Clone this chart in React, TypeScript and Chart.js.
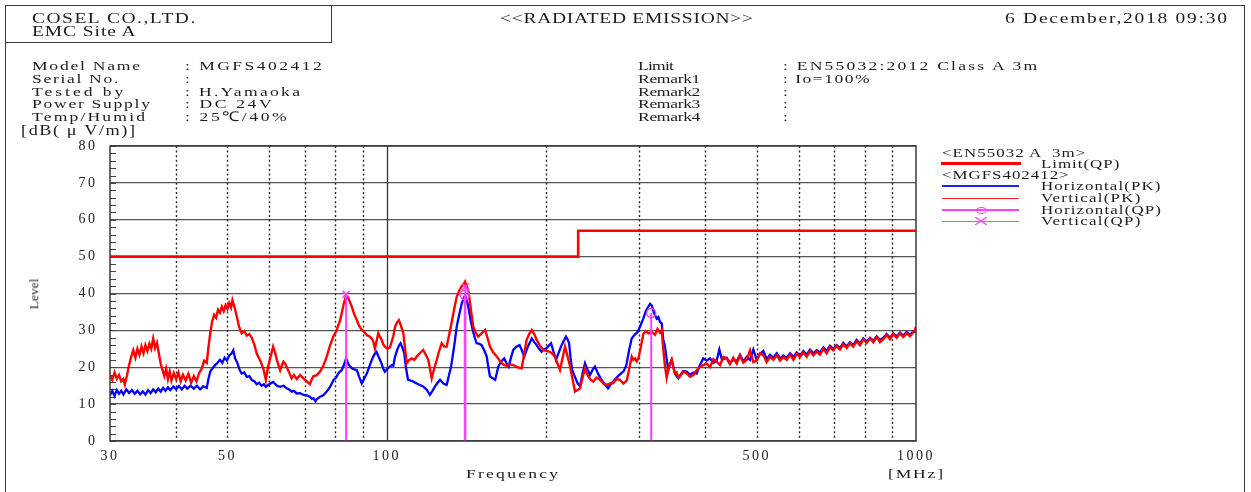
import React, { useEffect, useRef } from 'react';
import Chart from 'chart.js/auto';

const FONT = '"Liberation Serif", "Times New Roman", serif';

// ---- axis definitions ----
const xTickValues = [30, 40, 50, 60, 70, 80, 90, 100, 200, 300, 400, 500, 600, 700, 800, 900, 1000];
const xLabelValues = [30, 50, 100, 500, 1000];
const xDottedGrid = [40, 50, 60, 70, 80, 90, 200, 300, 400, 500, 600, 700, 800, 900];
const xSolidGrid = [100];
const yTickValues = [0, 10, 20, 30, 40, 50, 60, 70, 80];
const yMinorTicks = [0, 2, 4, 6, 8, 10, 12, 14, 16, 18, 20, 22, 24, 26, 28, 30, 32, 34, 36, 38, 40, 42, 44, 46, 48, 50, 52, 54, 56, 58, 60, 62, 64, 66, 68, 70, 72, 74, 76, 78, 80];

// ---- series: [frequency MHz, level dB(uV/m)] ----
const limitQP: [number, number][] = [[30, 50], [230, 50], [230, 57], [1000, 57]];
const horizontalQP: [number, number][] = [[140.4, 39.6], [316.0, 34.7]];
const verticalQP: [number, number][] = [[83.8, 39.8], [140.8, 41.8]];

const verticalPK: [number, number][] = [
  [30.0, 17.8], [30.3, 16.6], [30.6, 18.6], [30.9, 16.9], [31.2, 17.9], [31.5, 16.2], [31.8, 16.8], [32.0, 15.4], [32.3, 17.8], [32.6, 20.6],
  [32.9, 22.8], [33.2, 24.6], [33.5, 22.6], [33.8, 25.0], [34.1, 23.4], [34.4, 25.6], [34.7, 23.8], [35.0, 26.0], [35.3, 24.4], [35.6, 26.4],
  [35.9, 25.0], [36.2, 27.8], [36.5, 25.2], [36.8, 26.6], [37.1, 23.8], [37.4, 21.0], [37.7, 19.2], [38.0, 17.6], [38.3, 19.6], [38.6, 16.8],
  [38.9, 18.8], [39.2, 16.4], [39.6, 18.4], [40.0, 16.8], [40.4, 18.6], [40.8, 16.2], [41.2, 18.0], [41.7, 16.4], [42.2, 18.2], [42.7, 15.8],
  [43.2, 17.6], [43.7, 16.2], [44.2, 18.4], [44.7, 19.6], [45.2, 21.8], [45.7, 21.2], [46.0, 25.0], [46.4, 29.2], [46.8, 32.5], [47.2, 34.2],
  [47.6, 33.4], [48.0, 35.6], [48.4, 34.8], [48.8, 36.4], [49.2, 35.2], [49.6, 36.8], [50.0, 35.8], [50.4, 37.4], [50.8, 36.2], [51.1, 38.2],
  [51.5, 36.6], [51.8, 35.2], [52.1, 33.6], [52.6, 31.0], [53.2, 29.2], [53.8, 29.8], [54.4, 28.6], [55.0, 29.0], [55.6, 28.0], [56.2, 26.2],
  [56.8, 23.7], [57.4, 22.4], [58.0, 21.0], [58.6, 19.0], [59.1, 16.6], [59.6, 19.8], [60.3, 22.8], [61.0, 25.6], [61.5, 24.0], [62.0, 22.0],
  [62.5, 20.4], [62.9, 19.2], [63.4, 20.6], [63.8, 21.5], [64.3, 21.0], [64.7, 20.1], [65.4, 18.6], [66.1, 17.0], [66.8, 17.9], [67.6, 16.8],
  [68.6, 17.9], [69.6, 17.0], [70.6, 16.2], [71.6, 15.4], [72.2, 16.8], [72.7, 17.6], [73.7, 17.8], [74.8, 18.8], [75.9, 20.4], [77.0, 22.8],
  [78.1, 25.8], [79.3, 28.4], [80.2, 29.6], [81.0, 31.4], [81.6, 32.6], [82.2, 34.6], [83.0, 37.4], [83.8, 39.4], [84.8, 38.4], [85.9, 36.4],
  [86.8, 34.4], [87.8, 32.8], [88.7, 31.2], [89.7, 30.1], [90.7, 29.6], [91.7, 28.7], [92.7, 28.4], [93.7, 27.8], [94.4, 26.8], [95.0, 25.1],
  [95.7, 27.2], [96.4, 29.2], [97.1, 28.2], [97.8, 27.5], [98.5, 26.2], [99.2, 25.6], [100.3, 25.0], [101.4, 25.4], [102.2, 27.0], [102.9, 28.4],
  [103.7, 31.0], [104.6, 32.2], [105.4, 32.8], [106.4, 31.2], [107.5, 29.2], [108.3, 25.0], [109.1, 21.1], [110.3, 22.0], [111.5, 22.4], [112.7, 22.0],
  [113.9, 22.9], [115.5, 23.8], [117.2, 24.7], [118.5, 23.4], [119.8, 22.0], [120.7, 19.6], [121.6, 17.0], [122.9, 19.6], [124.3, 22.0], [125.6, 24.4],
  [127.0, 26.5], [128.4, 25.6], [129.8, 25.6], [131.2, 28.8], [132.7, 32.3], [134.1, 35.8], [135.6, 39.1], [137.1, 40.8], [138.6, 42.0], [139.6, 42.4],
  [140.6, 43.2], [141.6, 42.0], [142.6, 40.9], [144.1, 36.0], [145.7, 31.0], [147.3, 29.4], [148.9, 28.3], [151.1, 29.2], [153.4, 30.1], [155.0, 28.0],
  [156.7, 25.6], [159.0, 24.0], [161.4, 22.9], [163.1, 22.0], [164.9, 21.1], [166.7, 20.6], [168.5, 20.4], [171.0, 20.8], [173.4, 20.6], [176.7, 20.0],
  [179.9, 19.7], [181.8, 23.6], [183.8, 27.4], [185.8, 29.0], [187.9, 30.1], [190.0, 29.0], [192.0, 27.4], [194.8, 25.8], [197.6, 24.7], [200.5, 24.4],
  [203.5, 24.2], [205.7, 23.6], [207.9, 22.9], [210.2, 21.0], [212.5, 19.3], [214.8, 22.4], [217.2, 25.6], [219.6, 23.0], [222.0, 20.2], [224.4, 16.8],
  [226.8, 13.4], [229.3, 13.8], [231.8, 14.3], [234.3, 17.0], [236.9, 19.7], [238.6, 18.4], [240.3, 17.5], [243.0, 16.6], [245.6, 16.1], [249.2, 17.2],
  [252.9, 16.6], [256.6, 15.6], [260.4, 15.2], [264.1, 15.6], [268.0, 15.7], [271.9, 16.8], [275.9, 16.6], [280.0, 15.6], [284.1, 16.4], [287.2, 19.6],
  [290.3, 22.9], [292.4, 22.0], [294.5, 22.4], [296.6, 21.6], [298.8, 22.4], [302.0, 25.4], [305.3, 29.0], [308.6, 29.8], [312.0, 29.2], [316.7, 29.6],
  [321.3, 28.8], [324.8, 30.4], [328.3, 29.4], [330.8, 30.1], [333.1, 24.7], [335.6, 20.2], [338.0, 17.2], [340.4, 19.6], [342.9, 21.0], [345.5, 22.0],
  [348.0, 19.8], [350.4, 18.3], [353.0, 18.6], [355.5, 17.2], [358.2, 17.5], [363.4, 18.8], [368.7, 18.3], [374.1, 17.4], [379.5, 17.9], [385.1, 19.2],
  [390.7, 20.1], [396.3, 20.6], [402.3, 21.0], [408.1, 20.0], [414.1, 22.2], [420.2, 21.5], [426.4, 20.6], [432.6, 22.8], [438.8, 22.4], [445.0, 20.8],
  [451.6, 22.6], [458.4, 21.0], [465.0, 23.2], [471.8, 21.2], [478.8, 22.0], [485.8, 24.6], [492.8, 21.4], [500.0, 21.8], [507.3, 23.8], [514.7, 23.3],
  [522.1, 21.4], [529.8, 22.8], [537.6, 22.0], [545.6, 23.2], [553.6, 21.8], [561.6, 22.8], [569.8, 22.0], [578.2, 23.4], [586.7, 22.0], [595.2, 23.6],
  [603.8, 22.8], [612.7, 24.0], [621.6, 22.8], [630.6, 24.4], [639.8, 23.2], [649.1, 24.2], [658.6, 23.4], [668.2, 25.0], [677.9, 23.8], [687.8, 25.4],
  [697.9, 24.6], [708.1, 25.8], [718.4, 24.8], [728.8, 26.2], [739.4, 25.2], [750.2, 26.5], [761.2, 25.6], [772.2, 27.0], [783.6, 26.0], [795.0, 27.6],
  [806.8, 26.6], [818.6, 27.8], [830.6, 26.8], [842.8, 28.2], [855.0, 26.8], [867.5, 27.6], [880.2, 28.8], [893.0, 27.6], [906.0, 29.0], [919.2, 28.0],
  [932.6, 29.2], [946.3, 28.2], [960.3, 29.2], [974.3, 28.4], [988.5, 29.6], [995.0, 30.0], [1000, 31.0],
];

const horizontalPK: [number, number][] = [
  [30.0, 12.4], [30.3, 13.6], [30.6, 12.2], [30.9, 13.8], [31.2, 12.8], [31.5, 13.6], [31.8, 12.6], [32.2, 14.0], [32.6, 13.0], [33.0, 13.8],
  [33.4, 12.8], [33.8, 13.6], [34.2, 12.6], [34.6, 13.4], [35.0, 12.6], [35.4, 13.8], [35.8, 13.0], [36.2, 14.0], [36.6, 13.2], [37.0, 14.2],
  [37.4, 13.4], [37.8, 14.4], [38.2, 13.6], [38.6, 14.6], [39.0, 13.8], [39.5, 14.8], [40.0, 14.0], [40.5, 14.9], [41.0, 14.0], [41.5, 15.0],
  [42.0, 14.2], [42.6, 15.0], [43.2, 14.2], [43.8, 15.0], [44.4, 14.0], [45.0, 14.8], [45.7, 14.4], [46.0, 16.6], [46.4, 18.8], [46.8, 19.6],
  [47.4, 20.6], [47.9, 21.2], [48.4, 22.0], [48.9, 21.2], [49.4, 22.6], [49.9, 21.8], [50.4, 23.2], [50.9, 23.7], [51.3, 24.6], [51.7, 22.4],
  [52.2, 21.2], [52.7, 19.4], [53.2, 18.3], [53.8, 18.6], [54.4, 17.4], [55.0, 17.6], [55.6, 16.5], [56.2, 16.2], [56.8, 15.4], [57.4, 15.8],
  [58.0, 15.0], [58.6, 15.4], [59.1, 14.7], [60.0, 15.4], [61.0, 16.0], [62.0, 15.0], [62.9, 14.7], [63.8, 15.0], [64.7, 14.3], [65.4, 14.0],
  [66.1, 13.4], [66.8, 13.6], [67.6, 12.9], [68.6, 13.0], [69.6, 12.5], [70.6, 12.4], [71.6, 12.0], [72.2, 11.4], [72.7, 11.6], [73.3, 10.8],
  [73.8, 11.4], [74.8, 12.0], [75.9, 12.4], [77.0, 13.4], [78.1, 14.6], [79.3, 16.5], [80.2, 17.2], [81.0, 18.3], [81.6, 18.8], [82.2, 19.2],
  [83.0, 20.6], [83.8, 22.4], [84.8, 20.6], [85.9, 19.7], [86.8, 19.4], [87.8, 19.2], [88.7, 17.4], [89.7, 15.6], [90.7, 17.0], [91.7, 18.3],
  [92.7, 20.2], [93.7, 22.0], [94.7, 23.4], [95.6, 24.2], [96.7, 22.6], [97.8, 21.0], [98.5, 19.6], [99.2, 18.8], [100.3, 19.6], [101.4, 20.2],
  [102.2, 20.6], [102.9, 20.4], [103.7, 22.9], [104.7, 24.8], [105.6, 26.0], [106.2, 26.5], [107.0, 25.4], [107.9, 23.8], [108.8, 19.6], [109.7, 16.6],
  [111.0, 16.4], [112.3, 16.1], [113.9, 15.6], [115.5, 15.2], [117.2, 14.8], [119.0, 13.9], [120.6, 12.5], [122.0, 13.6], [123.4, 14.8], [124.8, 15.8],
  [126.1, 16.6], [128.0, 15.6], [129.8, 15.2], [131.0, 17.6], [132.3, 20.2], [134.0, 25.4], [135.6, 31.0], [137.1, 34.4], [138.6, 37.3], [139.6, 38.6],
  [140.6, 39.5], [141.6, 38.2], [142.6, 36.4], [144.1, 32.6], [145.7, 29.6], [146.7, 28.0], [147.8, 26.5], [149.4, 26.4], [151.1, 26.0], [152.8, 24.6],
  [154.5, 22.9], [155.6, 20.0], [156.7, 17.5], [158.5, 17.0], [160.3, 16.6], [161.4, 18.4], [162.5, 20.2], [164.6, 21.6], [166.7, 22.4], [168.3, 21.2],
  [170.0, 20.2], [171.7, 22.6], [173.4, 24.7], [175.8, 25.6], [178.2, 26.0], [180.0, 24.6], [181.9, 22.9], [184.8, 25.6], [187.9, 27.8], [190.0, 26.8],
  [192.0, 26.0], [194.0, 25.0], [196.1, 24.2], [198.0, 24.8], [200.0, 25.1], [202.2, 25.8], [204.4, 26.5], [206.6, 24.2], [208.8, 22.0], [211.1, 23.8],
  [213.4, 25.6], [215.7, 27.0], [218.1, 28.3], [219.6, 27.6], [221.1, 26.5], [222.5, 22.6], [224.0, 19.3], [226.5, 17.6], [229.1, 15.8], [231.8, 14.8],
  [234.3, 18.2], [236.9, 21.1], [239.5, 19.4], [242.1, 17.9], [244.7, 19.2], [247.4, 20.2], [250.9, 18.2], [254.5, 16.6], [258.2, 15.4], [261.9, 14.3],
  [265.7, 15.6], [269.6, 16.6], [273.6, 17.6], [277.6, 18.4], [280.6, 19.0], [283.7, 20.6], [287.0, 24.6], [290.3, 27.8], [293.2, 28.6], [296.0, 29.2],
  [298.0, 29.6], [300.0, 30.5], [302.6, 31.8], [305.3, 33.2], [308.6, 35.2], [312.0, 36.4], [314.4, 37.2], [316.7, 36.8], [320.1, 34.6], [323.6, 33.2],
  [326.0, 33.6], [328.3, 32.3], [330.8, 31.9], [333.1, 27.4], [335.6, 25.6], [338.0, 22.2], [340.4, 19.2], [342.9, 20.8], [345.5, 22.0], [348.0, 20.2],
  [350.4, 18.4], [353.0, 17.6], [355.5, 17.0], [358.2, 17.8], [363.4, 19.0], [368.7, 18.8], [374.1, 18.0], [379.5, 18.6], [385.1, 18.3], [390.7, 20.6],
  [396.3, 22.4], [402.3, 21.8], [408.1, 22.4], [414.1, 21.2], [420.2, 21.8], [425.0, 24.8], [430.0, 22.0], [438.8, 22.6], [445.0, 21.2], [451.6, 22.0],
  [458.4, 21.6], [465.0, 23.4], [471.8, 21.6], [478.8, 22.8], [485.8, 22.0], [492.8, 24.8], [500.0, 22.0], [507.3, 23.6], [514.7, 24.4], [522.1, 22.2],
  [529.8, 23.4], [537.6, 22.6], [545.6, 23.8], [553.6, 22.4], [561.6, 23.2], [569.8, 22.6], [578.2, 23.8], [586.7, 22.8], [595.2, 24.0], [603.8, 23.2],
  [612.7, 24.4], [621.6, 23.4], [630.6, 24.8], [639.8, 23.8], [649.1, 24.6], [658.6, 24.0], [668.2, 25.4], [677.9, 24.4], [687.8, 25.8], [697.9, 25.0],
  [708.1, 26.0], [718.4, 25.2], [728.8, 26.6], [739.4, 25.6], [750.2, 26.8], [761.2, 26.0], [772.2, 27.4], [783.6, 26.4], [795.0, 27.8], [806.8, 27.0],
  [818.6, 28.0], [830.6, 27.2], [842.8, 28.4], [855.0, 27.4], [867.5, 28.0], [880.2, 29.0], [893.0, 28.0], [906.0, 29.2], [919.2, 28.4], [932.6, 29.4],
  [946.3, 28.6], [960.3, 29.6], [974.3, 28.8], [988.5, 29.8], [1000, 29.4],
];

// ---- text helpers ----
const STRETCH = 1.3;
let measureCtx: CanvasRenderingContext2D | null = null;
function fitSpacing(text: string, size: number, width: number, k: number): number {
  if (!measureCtx) measureCtx = document.createElement('canvas').getContext('2d');
  if (!measureCtx) return 0;
  measureCtx.font = `${size}px ${FONT}`;
  const w = measureCtx.measureText(text).width;
  const n = Array.from(text).length;
  return n > 1 ? (width / k - w) / (n - 1) : 0;
}

function Txt(props: { x: number; base: number; size: number; width?: number; text: string; color?: string; k?: number }) {
  const { x, base, size, width, text, color } = props;
  const k = props.k ?? STRETCH;
  const ls = width ? fitSpacing(text, size, width, k) : 0;
  return (
    <div
      style={{
        position: 'absolute',
        left: x,
        top: base - 0.8375 * size,
        fontFamily: FONT,
        fontSize: size,
        lineHeight: `${size}px`,
        letterSpacing: ls,
        whiteSpace: 'pre',
        color: color || '#1c1c1c',
        transform: `scaleX(${k})`,
        transformOrigin: '0 0',
      }}
    >
      {text}
    </div>
  );
}

function qpData(points: [number, number][]) {
  const out: { x: number; y: number | null }[] = [];
  points.forEach(([f, v]) => {
    out.push({ x: f, y: 0 }, { x: f, y: v }, { x: f, y: null });
  });
  return out;
}
const toXY = (pts: [number, number][]) => pts.map(([f, v]) => ({ x: f, y: v }));

const gridPlugin = {
  id: 'emcGrid',
  beforeDraw(chart: any) {
    chart.ctx.letterSpacing = '2.5px';
  },
  beforeDatasetsDraw(chart: any) {
    const { ctx, chartArea: a, scales } = chart;
    const xs = scales.x;
    const ys = scales.y;
    ctx.save();
    ctx.strokeStyle = '#262626';
    ctx.lineWidth = 1.4;
    ctx.setLineDash([2, 2.6]);
    xDottedGrid.forEach((v) => {
      const px = Math.round(xs.getPixelForValue(v)) + 0.5;
      ctx.beginPath();
      ctx.moveTo(px, a.top);
      ctx.lineTo(px, a.bottom);
      ctx.stroke();
    });
    ctx.setLineDash([]);
    ctx.strokeStyle = '#333';
    ctx.lineWidth = 1.3;
    xSolidGrid.forEach((v) => {
      const px = Math.round(xs.getPixelForValue(v)) + 0.5;
      ctx.beginPath();
      ctx.moveTo(px, a.top);
      ctx.lineTo(px, a.bottom);
      ctx.stroke();
    });
    ctx.strokeStyle = '#444';
    ctx.lineWidth = 1;
    yMinorTicks.forEach((v) => {
      const py = Math.round(ys.getPixelForValue(v)) + 0.5;
      ctx.beginPath();
      ctx.moveTo(a.left, py);
      ctx.lineTo(a.left + 6, py);
      ctx.stroke();
    });
    ctx.restore();
  },
  afterDatasetsDraw(chart: any) {
    const { ctx, chartArea: a } = chart;
    ctx.save();
    ctx.strokeStyle = '#3a3a3a';
    ctx.lineWidth = 1.5;
    ctx.strokeRect(a.left, a.top, a.right - a.left, a.bottom - a.top);
    ctx.restore();
  },
  afterDraw(chart: any) {
    chart.ctx.letterSpacing = '0px';
  },
};

export default function App() {
  const ref = useRef<HTMLCanvasElement | null>(null);

  useEffect(() => {
    if (!ref.current) return;
    const chart = new Chart(ref.current, {
      type: 'scatter',
      data: {
        datasets: [
          {
            label: 'Vertical(QP)',
            data: qpData(verticalQP),
            showLine: true,
            spanGaps: false,
            borderColor: '#ff40ff',
            borderWidth: 2,
            pointStyle: 'crossRot',
            pointRadius: (c: any) => (c.raw && c.raw.y > 0 ? 5 : 0),
            pointBorderColor: '#ff40ff',
            pointBorderWidth: 1.5,
            pointBackgroundColor: 'rgba(0,0,0,0)',
          },
          {
            label: 'Horizontal(QP)',
            data: qpData(horizontalQP),
            showLine: true,
            spanGaps: false,
            borderColor: '#ff40ff',
            borderWidth: 2,
            pointStyle: 'circle',
            pointRadius: (c: any) => (c.raw && c.raw.y > 0 ? 4.5 : 0),
            pointBorderColor: '#ff40ff',
            pointBorderWidth: 1.5,
            pointBackgroundColor: 'rgba(0,0,0,0)',
          },
          {
            label: 'Limit(QP)',
            data: toXY(limitQP),
            showLine: true,
            borderColor: '#ff0000',
            borderWidth: 2.6,
            pointRadius: 0,
          },
          {
            label: 'Vertical(PK)',
            data: toXY(verticalPK),
            showLine: true,
            borderColor: '#ff0000',
            borderWidth: 2.4,
            pointRadius: 0,
          },
          {
            label: 'Horizontal(PK)',
            data: toXY(horizontalPK),
            showLine: true,
            borderColor: '#0000ff',
            borderWidth: 2.3,
            pointRadius: 0,
          },
        ],
      },
      options: {
        animation: false,
        responsive: false,
        events: [],
        layout: { padding: { left: 0, top: 146, right: 335, bottom: 1 } },
        plugins: {
          legend: { display: false },
          tooltip: { enabled: false },
          title: { display: false },
        },
        scales: {
          x: {
            type: 'logarithmic',
            min: 30,
            max: 1000,
            afterBuildTicks: (s: any) => {
              s.ticks = xTickValues.map((v) => ({ value: v }));
            },
            afterFit: (s: any) => {
              s.height = 50;
            },
            grid: { display: false, drawTicks: false },
            border: { display: false },
            ticks: {
              autoSkip: false,
              maxRotation: 0,
              minRotation: 0,
              padding: 7,
              color: '#222',
              font: { family: FONT, size: 14 },
              callback: (v: any) => (xLabelValues.includes(Number(v)) ? String(v) : ''),
            },
          },
          y: {
            type: 'linear',
            min: 0,
            max: 80,
            afterBuildTicks: (s: any) => {
              s.ticks = yTickValues.map((v) => ({ value: v }));
            },
            afterFit: (s: any) => {
              s.width = 110;
            },
            grid: { color: '#555', lineWidth: 1.3, drawTicks: false },
            border: { display: false },
            ticks: {
              padding: 12.5,
              color: '#222',
              font: { family: FONT, size: 14 },
            },
          },
        },
      },
      plugins: [gridPlugin],
    } as any);
    return () => chart.destroy();
  }, []);

  const line = (x: number, y: number, w: number, h: number, color: string) => (
    <div style={{ position: 'absolute', left: x, top: y, width: w, height: h, background: color }} />
  );

  const infoRows = [70.7, 83.3, 95.9, 108.4, 120.9];

  return (
    <div style={{ position: 'absolute', left: 0, top: 0, width: 1251, height: 492, overflow: 'hidden', background: '#fff' }}>
      {/* outer frame and header box */}
      <div style={{ position: 'absolute', left: 5, top: 5, width: 1240, height: 520, border: '1.5px solid #3a3a3a', boxSizing: 'border-box' }} />
      <div style={{ position: 'absolute', left: 5, top: 5, width: 327, height: 38, border: '1.5px solid #3a3a3a', boxSizing: 'border-box' }} />

      <canvas ref={ref} width={1251} height={492} style={{ position: 'absolute', left: 0, top: 0 }} />

      {/* header */}
      <Txt x={32} base={24} size={15} width={164} text="COSEL CO.,LTD." />
      <Txt x={32} base={36.7} size={15} width={104.7} text="EMC Site A" />
      <Txt x={500} base={24} size={15} width={253} text="<<RADIATED EMISSION>>" />
      <Txt x={1005} base={24} size={15} width={222} text="6 December,2018 09:30" />

      {/* info block left */}
      <Txt x={32} base={infoRows[0]} size={13.5} width={108} text="Model Name" />
      <Txt x={32} base={infoRows[1]} size={13.5} width={86.3} text="Serial No." />
      <Txt x={32} base={infoRows[2]} size={13.5} width={91.3} text="Tested by" />
      <Txt x={32} base={infoRows[3]} size={13.5} width={118} text="Power Supply" />
      <Txt x={32} base={infoRows[4]} size={13.5} width={113} text="Temp/Humid" />
      <Txt x={185} base={infoRows[0]} size={13.5} width={136.7} text=": MGFS402412" />
      <Txt x={185} base={infoRows[1]} size={13.5} text=":" />
      <Txt x={185} base={infoRows[2]} size={13.5} width={115} text=": H.Yamaoka" />
      <Txt x={185} base={infoRows[3]} size={13.5} width={86.7} text=": DC 24V" />
      <Txt x={185} base={infoRows[4]} size={13.5} width={101.7} text=": 25℃/40%" />

      {/* info block right */}
      <Txt x={638} base={infoRows[0]} size={13.5} width={36} text="Limit" />
      <Txt x={638} base={infoRows[1]} size={13.5} width={62.4} text="Remark1" />
      <Txt x={638} base={infoRows[2]} size={13.5} width={62.4} text="Remark2" />
      <Txt x={638} base={infoRows[3]} size={13.5} width={62.4} text="Remark3" />
      <Txt x={638} base={infoRows[4]} size={13.5} width={62.4} text="Remark4" />
      <Txt x={783} base={infoRows[0]} size={13.5} width={256} text=": EN55032:2012 Class A 3m" />
      <Txt x={783} base={infoRows[1]} size={13.5} width={86.7} text=": Io=100%" />
      <Txt x={783} base={infoRows[2]} size={13.5} text=":" />
      <Txt x={783} base={infoRows[3]} size={13.5} text=":" />
      <Txt x={783} base={infoRows[4]} size={13.5} text=":" />

      {/* axis titles */}
      <Txt x={20.7} base={135.5} size={14} width={114} text="[dB( μ V/m)]" />
      <div
        style={{
          position: 'absolute',
          left: 34,
          top: 294,
          transform: 'translate(-50%, -50%) rotate(-90deg)',
          fontFamily: FONT,
          fontSize: 13.5,
          lineHeight: '13.5px',
          whiteSpace: 'pre',
          color: '#2a2a2a',
        }}
      >
        Level
      </div>
      <Txt x={466} base={478} size={13.5} width={92} text="Frequency" />
      <Txt x={888} base={478} size={13.5} width={55} text="[MHz]" />

      {/* legend */}
      <Txt x={941.7} base={156.8} size={13} width={145} text="<EN55032 A  3m>" />
      {line(941, 161.5, 80, 3, '#ff0000')}
      <Txt x={1040.7} base={168.3} size={13} width={78.3} text="Limit(QP)" />
      <Txt x={941.7} base={179.3} size={13} width={126.6} text="<MGFS402412>" />
      {line(942, 185, 77, 1.5, '#2020ff')}
      <Txt x={1040.7} base={190.2} size={13} width={119.3} text="Horizontal(PK)" />
      {line(942, 197.5, 77, 1.5, '#ff2020')}
      <Txt x={1040.7} base={201.9} size={13} width={99.3} text="Vertical(PK)" />
      {line(942, 209, 77, 1.5, '#ff40ff')}
      <div
        style={{
          position: 'absolute',
          left: 976,
          top: 206.5,
          width: 11,
          height: 7,
          border: '1.4px solid #ff40ff',
          borderRadius: '50%',
          boxSizing: 'border-box',
        }}
      />
      <Txt x={1040.7} base={213.6} size={13} width={120} text="Horizontal(QP)" />
      {line(942, 220.5, 77, 1.5, '#ff40ff')}
      <svg style={{ position: 'absolute', left: 975, top: 217 }} width={12} height={8}>
        <line x1={0} y1={0} x2={12} y2={8} stroke="#ff40ff" strokeWidth={1.3} />
        <line x1={0} y1={8} x2={12} y2={0} stroke="#ff40ff" strokeWidth={1.3} />
      </svg>
      <Txt x={1040.7} base={225.2} size={13} width={99.3} text="Vertical(QP)" />
    </div>
  );
}
